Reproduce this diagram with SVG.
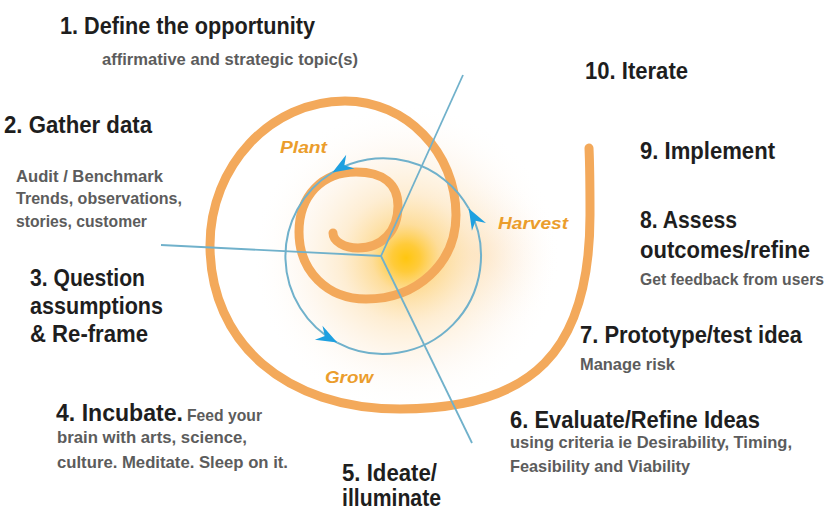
<svg xmlns="http://www.w3.org/2000/svg" width="833" height="511" viewBox="0 0 833 511">
  <defs>
    <style>
      .head { font-family: "Liberation Sans", "DejaVu Sans", sans-serif; font-weight: bold; font-size: 24px; fill: #1e1e1e; }
      .sub  { font-family: "Liberation Sans", "DejaVu Sans", sans-serif; font-weight: bold; font-size: 17px; fill: #5c5c5c; }
      .phase { font-family: "Liberation Sans", "DejaVu Sans", sans-serif; font-weight: bold; font-style: italic; font-size: 16px; fill: #eb9d2c; }
      .spiral { fill: none; stroke: #f3a95b; stroke-width: 9; stroke-linecap: round; }
      .ring { fill: none; stroke: #70b1cb; stroke-width: 2; }
      .spoke { fill: none; stroke: #70b1cb; stroke-width: 1.8; }
    </style>
    <radialGradient id="glow" cx="406" cy="258" r="155" gradientUnits="userSpaceOnUse">
      <stop offset="0" stop-color="#ffc60f"/>
      <stop offset="0.09" stop-color="#ffcb3a"/>
      <stop offset="0.22" stop-color="#fdd583" stop-opacity="0.8"/>
      <stop offset="0.42" stop-color="#fde2b6" stop-opacity="0.6"/>
      <stop offset="0.7" stop-color="#fdefdf" stop-opacity="0.35"/>
      <stop offset="1" stop-color="#ffffff" stop-opacity="0"/>
    </radialGradient>
    <radialGradient id="haze" cx="480" cy="255" r="80" gradientUnits="userSpaceOnUse">
      <stop offset="0" stop-color="#fcd9b0" stop-opacity="0.6"/>
      <stop offset="1" stop-color="#ffffff" stop-opacity="0"/>
    </radialGradient>
    <marker id="dart" viewBox="-22 -9 23 18" refX="0" refY="0" markerWidth="23" markerHeight="18" markerUnits="userSpaceOnUse" orient="auto">
      <path d="M0,0 L-21,-8 L-14,0 L-21,8 Z" fill="#1ea0e0"/>
    </marker>
  </defs>

  <rect width="833" height="511" fill="#ffffff"/>

  <!-- central cycle: glow, orange spiral, blue ring with direction arrows -->
  <g id="cycle">
    <ellipse cx="480" cy="255" rx="85" ry="100" fill="url(#haze)"/>
    <circle cx="406" cy="258" r="155" fill="url(#glow)"/>
    <path class="spiral" d="M333,233 C333,241.3 344.3,248 358,248 C382,248 398,231.2 398,206 C398,183.9 383.3,172 356,172 C321.8,172 299,196 299,232 C299,270.9 327.1,299 366,299 C417.3,299 456,262.9 456,215 C456,152.3 406.1,101 345,101 C270.8,101 210,165.8 210,245 C210,343.4 286,409 400,409 C533,409 590,350.8 590,215 C590,195 590,170 589,148"/>
    <path class="ring" marker-end="url(#dart)" d="M468.8,208.6 A98,98 0 0 0 332.4,172.5"/>
    <path class="ring" marker-end="url(#dart)" d="M332.4,172.5 A98,98 0 0 0 337.2,342.6"/>
    <path class="ring" marker-end="url(#dart)" d="M337.2,342.6 A98,98 0 0 0 468.8,208.6"/>
    <text class="phase" x="280" y="153" textLength="47" lengthAdjust="spacingAndGlyphs">Plant</text>
    <text class="phase" x="498" y="229" font-size="17" textLength="70" lengthAdjust="spacingAndGlyphs">Harvest</text>
    <text class="phase" x="325" y="383" textLength="48" lengthAdjust="spacingAndGlyphs" fill="#dfa24c">Grow</text>
  </g>

  <!-- spokes from the hub -->
  <g id="connectors">
    <line class="spoke" x1="381" y1="256" x2="161" y2="245"/>
    <line class="spoke" x1="381" y1="256" x2="463" y2="75"/>
    <line class="spoke" x1="381" y1="256" x2="472" y2="443"/>
  </g>

  <g id="step1">
    <text class="head" x="60" y="34" textLength="255" lengthAdjust="spacingAndGlyphs">1. Define the opportunity</text>
    <text class="sub" x="102" y="65" font-size="16" textLength="256" lengthAdjust="spacingAndGlyphs">affirmative and strategic topic(s)</text>
  </g>
  <g id="step2">
    <text class="head" x="4" y="133" textLength="148" lengthAdjust="spacingAndGlyphs">2. Gather data</text>
    <text class="sub" x="16" y="182" textLength="147" lengthAdjust="spacingAndGlyphs">Audit / Benchmark</text>
    <text class="sub" x="16" y="204" textLength="166" lengthAdjust="spacingAndGlyphs">Trends, observations,</text>
    <text class="sub" x="16" y="227" textLength="131" lengthAdjust="spacingAndGlyphs">stories, customer</text>
  </g>
  <g id="step3">
    <text class="head" x="30" y="286" textLength="115" lengthAdjust="spacingAndGlyphs">3. Question</text>
    <text class="head" x="30" y="314" textLength="133" lengthAdjust="spacingAndGlyphs">assumptions</text>
    <text class="head" x="30" y="342" textLength="118" lengthAdjust="spacingAndGlyphs">&amp; Re-frame</text>
  </g>
  <g id="step4">
    <text class="head" x="56" y="421" textLength="127" lengthAdjust="spacingAndGlyphs">4. Incubate.</text>
    <text class="sub" x="187" y="421" textLength="75" lengthAdjust="spacingAndGlyphs">Feed your</text>
    <text class="sub" x="57" y="443" textLength="190" lengthAdjust="spacingAndGlyphs">brain with arts, science,</text>
    <text class="sub" x="57" y="468" textLength="231" lengthAdjust="spacingAndGlyphs">culture. Meditate. Sleep on it.</text>
  </g>
  <g id="step5">
    <text class="head" x="342" y="481" font-size="23" textLength="95" lengthAdjust="spacingAndGlyphs">5. Ideate/</text>
    <text class="head" x="342" y="506" font-size="23" textLength="99" lengthAdjust="spacingAndGlyphs">illuminate</text>
  </g>
  <g id="step6">
    <text class="head" x="510" y="428" textLength="250" lengthAdjust="spacingAndGlyphs">6. Evaluate/Refine Ideas</text>
    <text class="sub" x="510" y="448" textLength="282" lengthAdjust="spacingAndGlyphs">using criteria ie Desirability, Timing,</text>
    <text class="sub" x="510" y="472" textLength="180" lengthAdjust="spacingAndGlyphs">Feasibility and Viability</text>
  </g>
  <g id="step7">
    <text class="head" x="580" y="343" textLength="222" lengthAdjust="spacingAndGlyphs">7. Prototype/test idea</text>
    <text class="sub" x="580" y="370" textLength="95" lengthAdjust="spacingAndGlyphs">Manage risk</text>
  </g>
  <g id="step8">
    <text class="head" x="640" y="228" textLength="97" lengthAdjust="spacingAndGlyphs">8. Assess</text>
    <text class="head" x="640" y="258" textLength="170" lengthAdjust="spacingAndGlyphs">outcomes/refine</text>
    <text class="sub" x="640" y="285" font-size="16.5" textLength="184" lengthAdjust="spacingAndGlyphs">Get feedback from users</text>
  </g>
  <g id="step9">
    <text class="head" x="640" y="159" textLength="135" lengthAdjust="spacingAndGlyphs">9. Implement</text>
  </g>
  <g id="step10">
    <text class="head" x="585" y="79" textLength="103" lengthAdjust="spacingAndGlyphs">10. Iterate</text>
  </g>
</svg>
